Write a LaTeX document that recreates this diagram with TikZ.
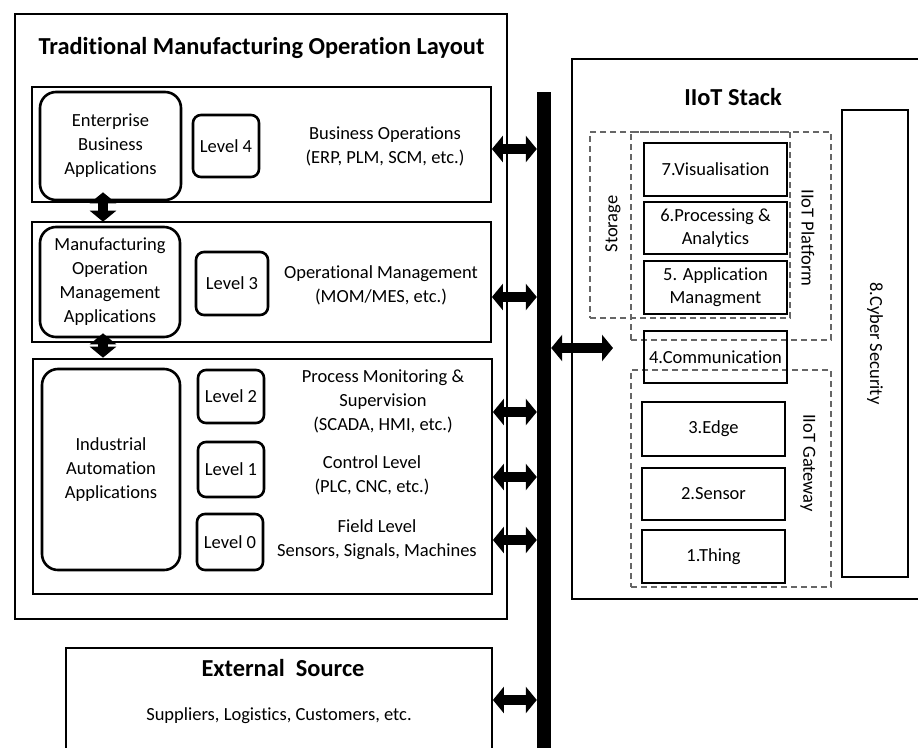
\documentclass[tikz,border=0pt]{standalone}
\usepackage{fontspec}
\setmainfont{Carlito}[Ligatures=NoCommon]
\usetikzlibrary{arrows.meta,calc}

\begin{document}
\begin{tikzpicture}[x=1pt,y=-1pt,
        frame/.style={draw,line width=1.8pt,inner sep=0pt},
        appbox/.style={draw,line width=2.6pt,rounded corners=16pt,inner sep=0pt,align=center,font=\fontsize{18.5}{24}\selectfont},
        lvlbox/.style={draw,line width=2.6pt,rounded corners=8pt,inner sep=0pt,font=\fontsize{18.5}{24}\selectfont},
        txt/.style={align=center,font=\fontsize{18.5}{24}\selectfont},
        head/.style={font=\bfseries\fontsize{24.4}{28}\selectfont},
        layer/.style={draw,line width=2.6pt,inner sep=0pt,minimum width=143pt,align=center,font=\fontsize{18.5}{23}\selectfont},
        group/.style={draw=black!60,dash pattern=on 6pt off 4pt,line width=1.1pt,inner sep=0pt},
        bigarrow/.style={line width=10pt,{Triangle[width=26pt,length=11pt]}-{Triangle[width=26pt,length=11pt]}}]
    \useasboundingbox (0,0) rectangle (918,747);
    \clip (0,0) rectangle (918,747);
    % traditional layout
    \node[frame,minimum width=492pt,minimum height=605pt] (layout) at (261,316.5) {};
    \node[head] (title) at (261.5,48) {Traditional Manufacturing Operation Layout};
    \node[frame,minimum width=459pt,minimum height=115pt] (row4) at (261.5,144.5) {};
    \node[frame,minimum width=459pt,minimum height=120pt] (row3) at (261.5,282) {};
    \node[frame,minimum width=459pt,minimum height=235pt] (row2) at (262.5,476.5) {};
    \node[appbox,minimum width=141pt,minimum height=108pt] (ent) at (110.5,146) {Enterprise\\Business\\Applications};
    \node[appbox,minimum width=140pt,minimum height=110pt] (mom) at (110,282) {Manufacturing\\Operation\\Management\\Applications};
    \node[appbox,minimum width=138pt,minimum height=201pt] (ind) at (111,469.5) {Industrial\\Automation\\Applications};
    \node[lvlbox,minimum width=66pt,minimum height=62pt] (lvl4) at (226,146) {Level 4};
    \node[lvlbox,minimum width=72pt,minimum height=63pt] (lvl3) at (232,283.5) {Level 3};
    \node[lvlbox,minimum width=66pt,minimum height=53pt] (lvl2) at (231,396.5) {Level 2};
    \node[lvlbox,minimum width=66pt,minimum height=55pt] (lvl1) at (231,469.5) {Level 1};
    \node[lvlbox,minimum width=66pt,minimum height=56pt] (lvl0) at (230,542) {Level 0};
    \node[txt] (biz) at (385,146) {Business Operations\\(ERP, PLM, SCM, etc.)};
    \node[txt] (opm) at (381,285) {Operational Management\\(MOM/MES, etc.)};
    \node[txt] (pms) at (383,401) {Process Monitoring \&\\Supervision\\(SCADA, HMI, etc.)};
    \node[txt] (ctl) at (372,475) {Control Level\\(PLC, CNC, etc.)};
    \node[txt] (fld) at (377,540) {Field Level\\Sensors, Signals, Machines};
    % external source
    \node[frame,minimum width=426pt,minimum height=142pt] (ext) at (279,719) {};
    \node[head] (exttitle) at (283,668) {External\ \ Source};
    \node[txt] (exttext) at (279,716) {Suppliers, Logistics, Customers, etc.};
    % bus
    \node[fill=black,inner sep=0pt,minimum width=14pt,minimum height=676pt] (bus) at (544,430) {};
    % iiot stack
    \node[frame,minimum width=368pt,minimum height=540pt] (iiot) at (756,329) {};
    \node[head] (stacktitle) at (733,97) {IIoT Stack};
    \node[group,minimum width=200pt,minimum height=186pt] (storage) at (690,225) {};
    \node[group,minimum width=200pt,minimum height=208pt] (platform) at (731,236) {};
    \node[group,minimum width=200pt,minimum height=217pt] (gateway) at (731,478.5) {};
    \node[txt,rotate=90] (storagelbl) at (613,224) {Storage};
    \node[txt,rotate=-90] (platformlbl) at (808,238) {IIoT Platform};
    \node[txt,rotate=-90] (gatewaylbl) at (808,463) {IIoT Gateway};
    \node[layer,minimum height=53pt] (vis) at (715.5,169.5) {7.Visualisation};
    \node[layer,minimum height=52pt] (proc) at (715.5,228) {6.Processing \&\\Analytics};
    \node[layer,minimum height=53pt] (app) at (715.5,287.5) {5. Application\\Managment};
    \node[layer,minimum height=52pt] (comm) at (715.5,357) {4.Communication};
    \node[layer,minimum height=54pt] (edge) at (713.5,429) {3.Edge};
    \node[layer,minimum height=52pt] (sens) at (713.5,494) {2.Sensor};
    \node[layer,minimum height=53pt] (thing) at (713.5,556.5) {1.Thing};
    \node[layer,minimum width=467pt,minimum height=66pt,rotate=-90] (cyber) at (875,343.5) {8.Cyber Security};
    % arrows
    \draw[bigarrow] ([xshift=-7.5pt,yshift=9pt]ent.south) -- ([xshift=-7pt,yshift=4pt]mom.north);
    \draw[bigarrow] ([xshift=-7pt,yshift=5pt]mom.south) -- ([xshift=-8pt,yshift=10pt]ind.north);
    \foreach \r/\y in {row4/149,row3/297,row2/412,row2/477,row2/540,ext/700}
        \draw[bigarrow] (\r.east |- 0,\y) -- (bus.west |- 0,\y);
    \coordinate (tip) at (613,348);
    \draw[bigarrow] (bus.east |- tip) -- (tip);
\end{tikzpicture}
\end{document}
